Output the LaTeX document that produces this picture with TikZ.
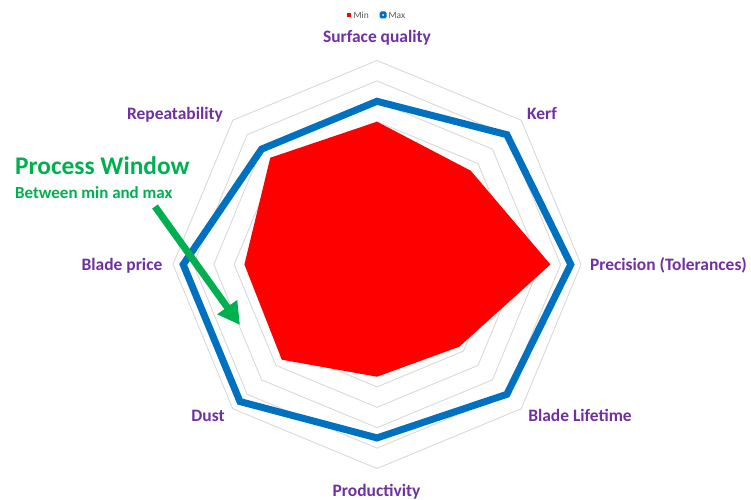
\documentclass[tikz,border=0pt]{standalone}
\usepackage{fontspec}
\setmainfont{Carlito}
\usetikzlibrary{arrows.meta}
\definecolor{axpurple}{HTML}{7030A0}
\definecolor{pwgreen}{HTML}{00B050}
\definecolor{maxblue}{HTML}{0070C0}
\definecolor{minred}{HTML}{FF0000}
\definecolor{gridgray}{HTML}{D9D9D9}
\definecolor{legendgray}{HTML}{595959}
\begin{document}
\begin{tikzpicture}[x=1bp,y=-1bp,
  axislabel/.style={text=axpurple,font=\fontsize{17.5}{20}\selectfont\bfseries,inner sep=0pt,anchor=base},
  ringline/.style={draw=gridgray,line width=0.9bp},
  maxline/.style={draw=maxblue,line width=7bp,line join=miter},
  minfill/.style={fill=minred},
  pwtitle/.style={text=pwgreen,font=\fontsize{25.5}{28}\selectfont\bfseries,inner sep=0pt,anchor=base west},
  pwsub/.style={text=pwgreen,font=\fontsize{17}{20}\selectfont\bfseries,inner sep=0pt,anchor=base west},
  pwarrow/.style={draw=pwgreen,line width=7bp,-{Triangle[length=22bp,width=23bp]}},
  legendtext/.style={text=legendgray,font=\fontsize{9.5}{11}\selectfont,inner sep=0pt,anchor=base west}]
\useasboundingbox (0,0) rectangle (751,500);
\fill[white] (0,0) rectangle (751,500);
\def\u{20.4}
\begin{scope}[shift={(377,264.5)}]
  % grid rings
  \foreach \r in {1,...,10} {
    \draw[ringline] (-90:\r*\u) \foreach \k in {1,...,7} { -- ({-90+45*\k}:\r*\u) } -- cycle;
  }
  % min series
  \fill[minfill] (-90:7*\u) -- (-45:6.5*\u) -- (0:8.5*\u) -- (45:5.7*\u)
     -- (90:5.5*\u) -- (135:6.6*\u) -- (180:6.5*\u) -- (225:7.4*\u) -- cycle;
  % max series
  \draw[maxline] (-90:8*\u) -- (-45:9*\u) -- (0:9.5*\u) -- (45:9*\u)
     -- (90:8.5*\u) -- (135:9.5*\u) -- (180:9.5*\u) -- (225:8*\u) -- cycle;
\end{scope}
% axis labels
\node[axislabel] (lsurf) at (377,42.7) {Surface quality};
\node[axislabel] (lkerf) at (542,119.3) {Kerf};
\node[axislabel] (lprec) at (668.5,270.5) {Precision (Tolerances)};
\node[axislabel] (llife) at (580,421.5) {Blade Lifetime};
\node[axislabel] (lprod) at (376.5,496) {Productivity};
\node[axislabel] (ldust) at (208,421.5) {Dust};
\node[axislabel] (lprice) at (122,270.7) {Blade price};
\node[axislabel] (lrep) at (175,120) {Repeatability};
% process window annotation
\node[pwtitle] (pwt) at (15,175) {Process Window};
\node[pwsub] (pws) at (15,198.3) {Between min and max};
\coordinate (arrS) at (155,206.5);
\coordinate (arrE) at (240,325);
\draw[pwarrow] (arrS) -- (arrE);
% legend
\fill[minred] (346.7,12.7) rectangle (351.3,17.3);
\node[legendtext] (lmin) at (353.3,18.3) {Min};
\fill[maxblue,rounded corners=1.5bp] (379.5,11.5) rectangle (386.7,18.5);
\fill[white] (383.1,15) circle (1.1bp);
\node[legendtext] (lmax) at (388.3,18.3) {Max};
\end{tikzpicture}
\end{document}
